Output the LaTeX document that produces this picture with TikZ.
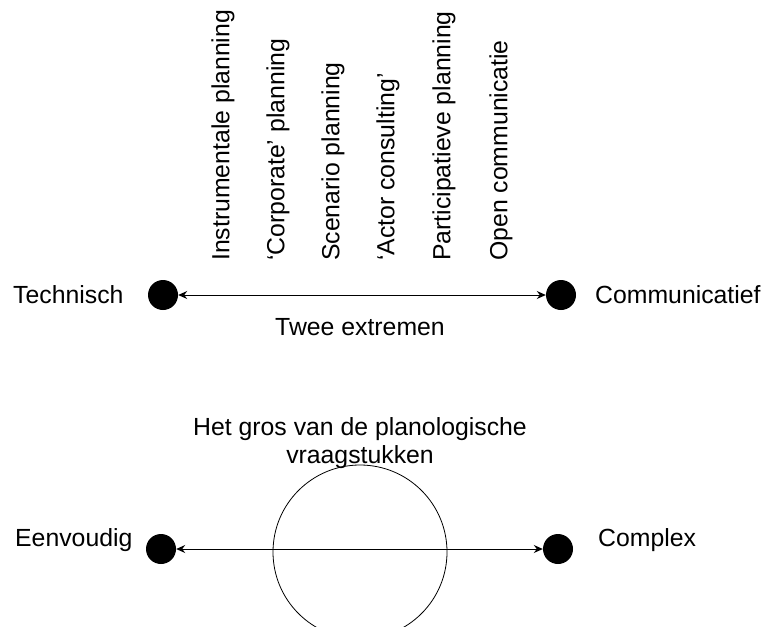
\documentclass[tikz,border=0pt]{standalone}
\usepackage{fontspec}
\setmainfont{Liberation Sans}
\usetikzlibrary{arrows.meta}
\begin{document}
\begin{tikzpicture}[x=1pt,y=-1pt,
  lbl/.style={inner sep=0pt, font=\fontsize{24.8}{28}\selectfont},
  vlbl/.style={lbl, rotate=90, anchor=west},
  dot/.style={circle, fill=black, minimum size=30pt, inner sep=0pt},
  conn/.style={line width=1pt, {Stealth[length=9pt,width=8pt,inset=3pt]}-{Stealth[length=9pt,width=8pt,inset=3pt]}}]
\clip (0,0) rectangle (767,626);
\useasboundingbox (0,0) rectangle (767,626);
% top axis
\node[dot] (t1) at (163,295) {};
\node[dot] (t2) at (561,295) {};
\draw[conn] (t1) -- (t2);
\node[lbl, anchor=west] (tech) at (13,295) {Technisch};
\node[lbl, anchor=west] (comm) at (595,295) {Communicatief};
\node[lbl] (twee) at (360,327) {Twee extremen};
% vertical labels
\node[vlbl] (v1) at (223,261) {Instrumentale planning};
\node[vlbl] (v2) at (278,261) {‘Corporate’ planning};
\node[vlbl] (v3) at (333,261) {Scenario planning};
\node[vlbl] (v4) at (388,261) {‘Actor consulting’};
\node[vlbl] (v5) at (444,261) {Participatieve planning};
\node[vlbl] (v6) at (501,261) {Open communicatie};
% bottom axis
\node[draw, circle, line width=0.8pt, minimum size=174pt, inner sep=0pt] (blob) at (360,552) {};
\node[dot] (b1) at (161,549) {};
\node[dot] (b2) at (558,549) {};
\draw[conn] (b1) -- (b2);
\node[lbl, anchor=west] (een) at (15,540) {Eenvoudig};
\node[lbl, anchor=west] (cpx) at (598,540) {Complex};
\node[lbl, align=center] (gros) at (360,443) {Het gros van de planologische\\vraagstukken};
\end{tikzpicture}
\end{document}
